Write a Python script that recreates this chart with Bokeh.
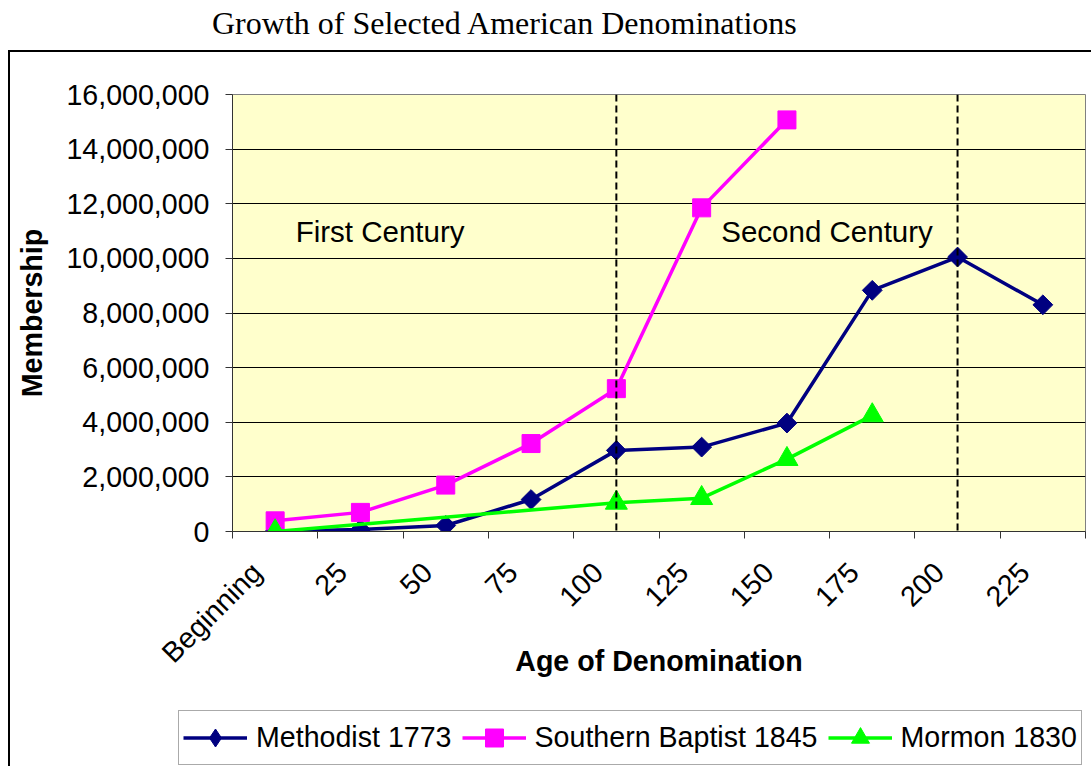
import math
from bokeh.plotting import figure
from bokeh.models import (ColumnDataSource, FixedTicker, NumeralTickFormatter, Span,
                          Label, Legend, LegendItem, Div, Range1d)
from bokeh.layouts import column
from bokeh.embed import file_html
from bokeh.resources import INLINE

# ---------------- data ----------------
title_text = "Growth of Selected American Denominations"
categories = ["Beginning", "25", "50", "75", "100", "125", "150", "175", "200", "225"]
methodist = [10000, 70000, 220000, 1170000, 2970000, 3090000, 3970000, 8830000, 10050000, 8300000]
southern_baptist = [390000, 700000, 1700000, 3220000, 5230000, 11850000, 15070000, None, None, None]
mormon = [6, None, None, None, 1050000, 1220000, 2650000, 4250000, None, None]
series_names = ["Methodist 1773", "Southern Baptist 1845", "Mormon 1830"]
century_marks = ["100", "200"]
era_labels = ["First Century", "Second Century"]
y_ticks = [0, 2000000, 4000000, 6000000, 8000000, 10000000, 12000000, 14000000, 16000000]

FONT = "Liberation Sans"
FS = "28.6px"

centers = [i + 0.5 for i in range(len(categories))]
bounds = [i for i in range(len(categories) + 1)]
# rotated labels end slightly left of the category centre (as in Excel)
label_pos = [c - 0.217 for c in centers]

W = 1081
p = figure(width=W, height=653,
           x_range=Range1d(0, len(categories)), y_range=Range1d(y_ticks[0], y_ticks[-1]),
           output_backend="svg", toolbar_location=None,
           min_border_left=222, min_border_right=6, min_border_top=42, min_border_bottom=174,
           background_fill_color="#FFFFCC", border_fill_color="white")
p.outline_line_color = "#808080"
p.frame_align = False

xa = p.xaxis[0]
xa.ticker = FixedTicker(ticks=label_pos, minor_ticks=bounds)
xa.major_label_overrides = {c: lab for c, lab in zip(label_pos, categories)}
xa.major_label_orientation = math.pi / 4
xa.major_tick_line_color = None
xa.major_tick_out = 0
xa.major_tick_in = 0
xa.minor_tick_out = 7
xa.minor_tick_in = 0
xa.minor_tick_line_color = "#333333"
xa.axis_line_color = "#333333"
xa.major_label_standoff = 29
xa.major_label_text_font = FONT
xa.major_label_text_font_size = FS
xa.major_label_text_color = "black"
xa.axis_label = "Age of Denomination"
xa.axis_label_text_font = FONT
xa.axis_label_text_font_size = FS
xa.axis_label_text_font_style = "bold"
xa.axis_label_text_color = "black"
xa.axis_label_standoff = -38

ya = p.yaxis[0]
ya.ticker = FixedTicker(ticks=y_ticks)
ya.formatter = NumeralTickFormatter(format="0,0")
ya.major_tick_out = 7
ya.major_tick_in = 0
ya.major_tick_line_color = "#333333"
ya.minor_tick_line_color = None
ya.axis_line_color = "#333333"
ya.major_label_standoff = 16
ya.major_label_text_font = FONT
ya.major_label_text_font_size = FS
ya.major_label_text_color = "black"
ya.axis_label = "Membership"
ya.axis_label_text_font = FONT
ya.axis_label_text_font_size = FS
ya.axis_label_text_font_style = "bold"
ya.axis_label_text_color = "black"
ya.axis_label_standoff = 15

p.xgrid.visible = False
p.ygrid.ticker = FixedTicker(ticks=y_ticks)
p.ygrid.grid_line_color = "black"
p.ygrid.grid_line_width = 1

for c in century_marks:
    p.add_layout(Span(location=categories.index(c) + 0.5, dimension="height",
                      line_color="black", line_width=2, line_dash="7 4"))

era_pos = [(1.73, 11.0e6), (6.97, 11.0e6)]
for txt, (lx, ly) in zip(era_labels, era_pos):
    p.add_layout(Label(x=lx, y=ly, text=txt, text_align="center", text_baseline="middle",
                       text_font=FONT, text_font_size="29.5px", text_color="black"))

# (colour, plot marker, plot size, angle, legend marker)
styles = [("#000080", "square", 14, math.pi / 4, "diamond"),
          ("#FF00FF", "square", 18, 0.0, "square"),
          ("#00FF00", "triangle", 22, 0.0, "triangle")]

# legend strip (separate figure below the chart; its renderers lie outside its view)
leg = figure(width=W, height=61, x_range=Range1d(-100, -99), y_range=Range1d(-100, -99),
             output_backend="svg", toolbar_location=None,
             x_axis_location=None, y_axis_location=None,
             min_border=0, outline_line_color=None,
             background_fill_color="white", border_fill_color="white")
leg.frame_align = False
leg.xgrid.visible = False
leg.ygrid.visible = False

items = []
for name, vals, (col, mk, sz, ang, lmk) in zip(series_names, [methodist, southern_baptist, mormon], styles):
    xs = [c for c, v in zip(centers, vals) if v is not None]
    ys = [v for v in vals if v is not None]
    src = ColumnDataSource(dict(x=xs, y=ys))
    p.line("x", "y", source=src, line_color=col, line_width=3.5)
    p.scatter("x", "y", source=src, marker=mk, size=sz, angle=ang, fill_color=col, line_color=col)
    lr = leg.line("x", "y", source=src, line_color=col, line_width=3.5)
    sr = leg.scatter("x", "y", source=src, marker=lmk, size=sz, fill_color=col, line_color=col)
    items.append(LegendItem(label=name, renderers=[lr, sr]))

legend = Legend(items=items, orientation="horizontal", location=(168, 1),
                glyph_width=64, glyph_height=45, label_standoff=9, spacing=10, padding=4,
                margin=0, label_text_font=FONT, label_text_font_size=FS,
                label_text_color="black", border_line_color="#555555", border_line_width=1.5,
                background_fill_color="white", background_fill_alpha=1.0)
leg.add_layout(legend)

title = Div(text=f'<div style="font-family:\'Liberation Serif\';font-size:32px;line-height:29px;'
                 f'padding-left:212px;padding-top:9px;white-space:nowrap;color:black;">{title_text}</div>',
            width=1090, height=50, margin=0)

body = column(p, leg, spacing=0, margin=(0, 0, 0, 8),
              styles={"border-left": "2px solid black", "border-top": "2px solid black"})
layout = column(title, body, spacing=0, margin=0)
open("out.html", "w").write(file_html(layout, INLINE))
